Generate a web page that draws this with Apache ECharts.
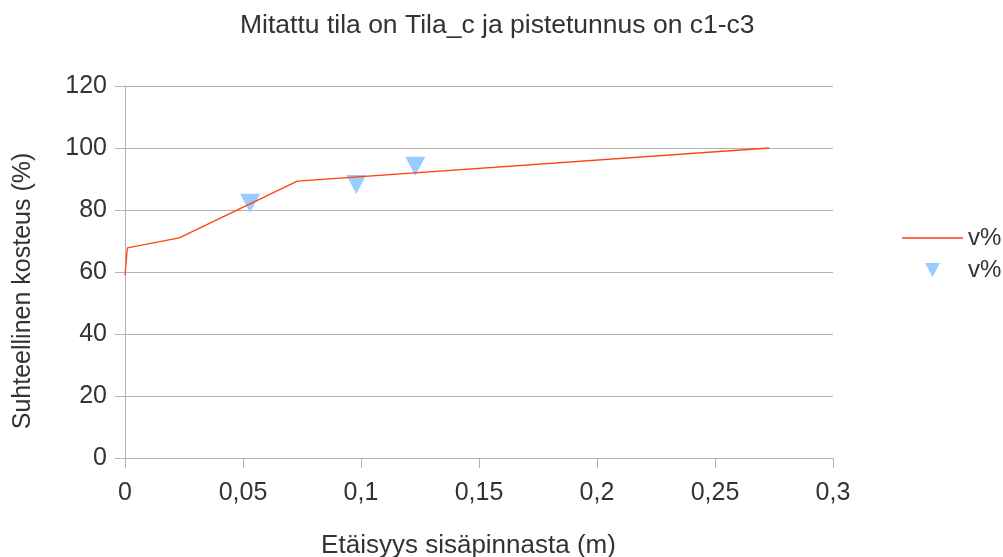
<!DOCTYPE html>
<html>
<head>
<meta charset="utf-8">
<script src="https://cdn.jsdelivr.net/npm/echarts@6/dist/echarts.min.js"></script>
<style>html,body{margin:0;padding:0;background:#fff;}#c{width:1003px;height:557px;}</style>
</head>
<body>
<div id="c"></div>
<script>
const titleText = 'Mitattu tila on Tila_c ja pistetunnus on c1-c3';
const xAxisName = 'Etäisyys sisäpinnasta (m)';
const yAxisName = 'Suhteellinen kosteus (%)';
const legendLabels = ['v%', 'v%'];
const lineX = [0, 0.001, 0.023, 0.073, 0.273];
const lineY = [59, 67.8, 71, 89.3, 100];
const pointX = [0.053, 0.098, 0.123];
const pointY = [82.2, 88.2, 94.1];

const font = 'Liberation Sans, Arial, sans-serif';
const txt = '#333333';
const gridCol = '#b3b3b3';

const chart = echarts.init(document.getElementById('c'), null, {renderer: 'canvas'});
chart.setOption({
  animation: false,
  backgroundColor: '#ffffff',
  textStyle: {fontFamily: font},
  title: {
    text: titleText, left: 235, top: 7, padding: 5,
    textStyle: {fontFamily: font, fontSize: 26.5, fontWeight: 'normal', color: txt}
  },
  legend: {
    orient: 'vertical', left: 897, top: 221, padding: 5,
    itemWidth: 61, itemHeight: 14, itemGap: 8,
    textStyle: {fontFamily: font, fontSize: 24, color: txt},
    formatter: function (n) { return n === 'line' ? legendLabels[0] : legendLabels[1]; },
    data: [
      {name: 'line', icon: 'path://M0,0 L61,0 L61,1.3 L0,1.3 Z'},
      {name: 'points', icon: 'path://M0,0 L20,0 L10,19 Z'}
    ]
  },
  grid: {left: 125, right: 170, top: 86, bottom: 99, containLabel: false, outerBoundsMode: 'none'},
  xAxis: {
    type: 'value', min: 0, max: 0.3, interval: 0.05,
    name: xAxisName, nameLocation: 'middle', nameGap: 75,
    nameTextStyle: {fontFamily: font, fontSize: 26, color: txt, padding: [0, 21, 0, 0]},
    axisLine: {show: true, lineStyle: {color: gridCol, width: 1}},
    axisTick: {show: true, length: 10, lineStyle: {color: gridCol}},
    axisLabel: {
      margin: 23, fontFamily: font, fontSize: 25, color: txt,
      formatter: function (v) { return String(+v.toFixed(2)).replace('.', ','); }
    },
    splitLine: {show: false}
  },
  yAxis: {
    type: 'value', min: 0, max: 120, interval: 20,
    name: yAxisName, nameLocation: 'middle', nameGap: 89, nameRotate: 90,
    nameTextStyle: {fontFamily: font, fontSize: 25, color: txt, padding: [0, 38, 0, 0]},
    axisLine: {show: true, lineStyle: {color: gridCol, width: 1}},
    axisTick: {show: true, length: 10, lineStyle: {color: gridCol}},
    axisLabel: {margin: 18, fontFamily: font, fontSize: 25, color: txt, padding: [3, 0, 0, 0]},
    splitLine: {show: true, lineStyle: {color: gridCol, width: 1}}
  },
  series: [
    {
      name: 'line', type: 'line', symbol: 'none',
      data: lineX.map((x, i) => [x, lineY[i]]),
      lineStyle: {color: '#ff420e', width: 1.3},
      itemStyle: {color: '#ff420e'}
    },
    {
      name: 'points', type: 'scatter', symbol: 'triangle', symbolRotate: 180,
      symbolSize: [20, 19],
      data: pointX.map((x, i) => [x, pointY[i]]),
      itemStyle: {color: '#99ccff', opacity: 1}
    }
  ]
});
</script>
</body>
</html>
